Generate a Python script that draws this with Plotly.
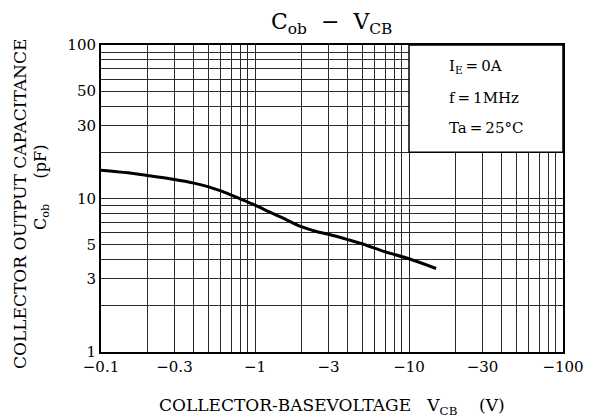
import plotly.graph_objects as go

# Data
vcb = [0.1, 0.15, 0.2, 0.3, 0.4, 0.5, 0.6, 0.8, 1.0, 1.25, 1.5, 2.0, 2.5, 3.0, 4.0, 5.0, 7.0, 10.0, 15.0]
cob = [15.3, 14.7, 14.1, 13.3, 12.6, 11.9, 11.2, 9.95, 9.05, 8.15, 7.5, 6.55, 6.1, 5.85, 5.4, 5.05, 4.5, 4.05, 3.5]

x_grid = [0.1, 0.2, 0.3, 0.4, 0.5, 0.6, 0.7, 0.8, 0.9,
          1, 2, 3, 4, 5, 6, 7, 8, 9,
          10, 20, 30, 40, 50, 60, 70, 80, 90, 100]
x_labels = {0.1: "−0.1", 0.3: "−0.3", 1: "−1", 3: "−3", 10: "−10", 30: "−30", 100: "−100"}
y_grid = [1, 2, 3, 4, 5, 6, 7, 8, 9,
          10, 20, 30, 40, 50, 60, 70, 80, 90, 100]
y_labels = {1: "1", 3: "3", 5: "5", 10: "10", 30: "30", 50: "50", 100: "100"}

FONT = "DejaVu Serif"
OFF = 8  # page body margin
W, H = 597 - OFF, 419 - OFF
# plot area in page pixels: x 101..563, y 45..352
L, R, T, B = 101 - OFF, 597 - 563, 45 - OFF, 419 - 352
PW, PH = W - L - R, H - T - B

fig = go.Figure()
fig.add_trace(go.Scatter(x=vcb, y=cob, mode="lines",
                         line=dict(color="black", width=3, shape="spline", smoothing=1.0),
                         hoverinfo="skip", showlegend=False))

fig.update_layout(
    width=W, height=H,
    margin=dict(l=L, r=R, t=T, b=B),
    paper_bgcolor="white", plot_bgcolor="white",
    font=dict(family=FONT, color="black", size=15),
    showlegend=False,
)
fig.update_xaxes(type="log", range=[-1, 2],
                 tickvals=x_grid, ticktext=[x_labels.get(v, "") for v in x_grid],
                 ticks="", showgrid=True, gridcolor="#2a2a2a", gridwidth=1,
                 showline=True, linecolor="black", linewidth=2, mirror=True,
                 zeroline=False, tickfont=dict(family=FONT, size=15, color="black"))
fig.update_yaxes(type="log", range=[0, 2],
                 tickvals=y_grid, ticktext=[y_labels.get(v, "") for v in y_grid],
                 ticks="", showgrid=True, gridcolor="#2a2a2a", gridwidth=1,
                 showline=True, linecolor="black", linewidth=2, mirror=True,
                 zeroline=False, tickfont=dict(family=FONT, size=15, color="black"))

# Condition box (upper right, covers grid)
fig.add_shape(type="rect", xref="paper", yref="paper",
              x0=2/3, x1=1, y0=0.6505, y1=1,
              fillcolor="white", line=dict(color="black", width=1.5), layer="above")

def py(pix):
    return 1 - (pix - 45) / PH

def px(pix):
    return (pix - 101) / PW

for txt, ypix in [("I<sub>E</sub>\u2009=\u20090A", 66), ("f\u2009=\u20091MHz", 98), ("Ta\u2009=\u200925°C", 128)]:
    fig.add_annotation(text=txt, xref="paper", yref="paper", x=px(447), y=py(ypix),
                       xanchor="left", yanchor="middle", showarrow=False,
                       font=dict(family=FONT, size=15, color="black"))

# Title
fig.add_annotation(text="C<sub>ob</sub>\u00a0\u00a0−\u00a0\u00a0V<sub>CB</sub>", xref="paper", yref="paper",
                   x=px(331), y=py(24), xanchor="center", yanchor="middle", showarrow=False,
                   font=dict(family=FONT, size=22, color="black"))

# X axis title
fig.add_annotation(text="COLLECTOR-BASEVOLTAGE\u00a0\u00a0\u00a0V<sub>CB</sub>\u00a0\u00a0\u00a0\u00a0(V)",
                   xref="paper", yref="paper", x=px(332), y=py(406),
                   xanchor="center", yanchor="middle", showarrow=False,
                   font=dict(family=FONT, size=17, color="black"))

# Y axis title (two lines)
fig.add_annotation(text="COLLECTOR OUTPUT CAPACITANCE", xref="paper", yref="paper",
                   x=px(20), y=py(204), xanchor="center", yanchor="middle", textangle=-90,
                   showarrow=False, font=dict(family=FONT, size=17, color="black"))
fig.add_annotation(text="C<sub>ob</sub>\u00a0\u00a0\u00a0\u00a0\u00a0(pF)", xref="paper", yref="paper",
                   x=px(41), y=py(188), xanchor="center", yanchor="middle", textangle=-90,
                   showarrow=False, font=dict(family=FONT, size=16, color="black"))

fig.write_html("out.html")
